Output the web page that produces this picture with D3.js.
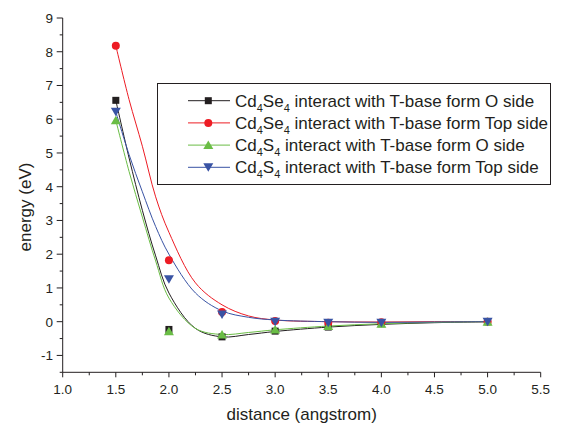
<!DOCTYPE html>
<html><head><meta charset="utf-8">
<script src="https://cdn.jsdelivr.net/npm/d3@7"></script>
<style>body{margin:0;background:#fff}svg{display:block}text{font-family:Arial,"Liberation Sans",sans-serif;fill:#231f20}</style>
</head><body><svg id="c" width="574" height="425"></svg>
<script>
const xTicks = [1.0,1.5,2.0,2.5,3.0,3.5,4.0,4.5,5.0,5.5];
const yTicks = [-1,0,1,2,3,4,5,6,7,8,9];
const distances = [1.5,2.0,2.5,3.0,3.5,4.0,5.0];
const se4O   = [6.56,-0.23,-0.45,-0.28,-0.16,-0.06,0.0];
const se4Top = [8.18,1.82,0.29,0.02,-0.03,-0.02,0.0];
const s4O    = [5.97,-0.28,-0.38,-0.23,-0.13,-0.06,0.0];
const s4Top  = [6.22,1.26,0.21,0.0,-0.03,-0.03,0.0];
const fitX     = [1.5,1.625,1.75,1.875,2.0,2.25,2.5,2.75,3.0,3.5,4.0,4.5,5.0];
const fitSe4O  = [6.56,4.85,3.3,1.95,0.85,-0.2,-0.45,-0.38,-0.29,-0.16,-0.08,-0.03,0.0];
const fitSe4Top= [8.18,6.58,5.2,3.7,2.65,1.15,0.5,0.17,0.05,0.0,-0.01,0.0,0.0];
const fitS4O   = [5.97,4.45,3.1,1.8,0.7,-0.2,-0.38,-0.32,-0.24,-0.13,-0.06,-0.02,0.0];
const fitS4Top = [6.22,4.95,3.85,2.82,2.0,0.85,0.32,0.13,0.05,0.0,-0.02,-0.01,0.0];

const series = [
  {pre:"Se", rest:" interact with T-base form O side", vals:se4O, fit:fitSe4O, color:"#231f20", sym:"square"},
  {pre:"Se", rest:" interact with T-base form Top side", vals:se4Top, fit:fitSe4Top, color:"#ed1c24", sym:"circle"},
  {pre:"S", rest:" interact with T-base form O side", vals:s4O, fit:fitS4O, color:"#6abd45", sym:"up"},
  {pre:"S", rest:" interact with T-base form Top side", vals:s4Top, fit:fitS4Top, color:"#3953a4", sym:"down"}
];

const svg = d3.select("#c");
const x = d3.scaleLinear().domain([1.0,5.5]).range([62.7,540.7]);
const y = d3.scaleLinear().domain([-1.5,9]).range([372.3,18]);

function marker(g, sym, cx, cy, color){
  if(sym==="square") g.append("rect").attr("x",cx-3.5).attr("y",cy-3.5).attr("width",7).attr("height",7).attr("fill",color);
  else if(sym==="circle") g.append("circle").attr("cx",cx).attr("cy",cy).attr("r",4).attr("fill",color);
  else if(sym==="up") g.append("path").attr("d",`M${cx},${cy-4.5}L${cx+5},${cy+4}L${cx-5},${cy+4}Z`).attr("fill",color);
  else g.append("path").attr("d",`M${cx},${cy+4.5}L${cx+5},${cy-4}L${cx-5},${cy-4}Z`).attr("fill",color);
}

// axes
const xMinor = d3.range(1.0,5.5001,0.25);
const yMinor = d3.range(-1.5,9.0001,0.5);
const ax = svg.append("g").attr("stroke","#231f20").attr("stroke-width",1);
ax.append("line").attr("x1",x(1.0)).attr("x2",x(5.5)).attr("y1",y(-1.5)).attr("y2",y(-1.5));
ax.append("line").attr("x1",x(1.0)).attr("x2",x(1.0)).attr("y1",y(-1.5)).attr("y2",y(9));
xMinor.forEach(v=>{const major=Math.abs(v*2-Math.round(v*2))<1e-6;
  ax.append("line").attr("x1",x(v)).attr("x2",x(v)).attr("y1",y(-1.5)).attr("y2",y(-1.5)+(major?5:3));});
yMinor.forEach(v=>{const major=Math.abs(v-Math.round(v))<1e-6;
  ax.append("line").attr("x1",x(1.0)).attr("x2",x(1.0)-(major?6:3)).attr("y1",y(v)).attr("y2",y(v));});
svg.append("g").selectAll("text").data(xTicks).join("text")
  .attr("x",d=>x(d)).attr("y",394).attr("text-anchor","middle").attr("font-size",13.5).text(d=>d.toFixed(1));
svg.append("g").selectAll("text").data(yTicks).join("text")
  .attr("x",53).attr("y",d=>y(d)+5).attr("text-anchor","end").attr("font-size",13.5).text(d=>d);
svg.append("text").attr("x",x(3.25)).attr("y",420).attr("text-anchor","middle").attr("font-size",17).text("distance (angstrom)");
svg.append("text").attr("transform","translate(31,207) rotate(-90)").attr("text-anchor","middle").attr("font-size",17).text("energy (eV)");

// curves
const line = d3.line().x(d=>x(d[0])).y(d=>y(d[1])).curve(d3.curveCatmullRom.alpha(0.5));
series.forEach(s=>{
  svg.append("path").attr("d",line(fitX.map((v,i)=>[v,s.fit[i]]))).attr("fill","none").attr("stroke",s.color).attr("stroke-width",1);
});
series.forEach(s=>{
  const g = svg.append("g");
  distances.forEach((d,i)=>marker(g,s.sym,x(d),y(s.vals[i]),s.color));
});

// legend
const lg = svg.append("g");
lg.append("rect").attr("x",157.5).attr("y",83.5).attr("width",393).attr("height",101).attr("fill","#fff").attr("stroke","#231f20").attr("stroke-width",1);
series.forEach((s,i)=>{
  const cy = 100.7 + i*22.2;
  lg.append("line").attr("x1",188).attr("x2",230).attr("y1",cy).attr("y2",cy).attr("stroke",s.color).attr("stroke-width",1);
  marker(lg,s.sym,208.3,cy,s.color);
  const t = lg.append("text").attr("x",235).attr("y",cy+6).attr("font-size",17);
  t.append("tspan").text("Cd");
  t.append("tspan").attr("font-size",11).attr("dy",5).text("4");
  t.append("tspan").attr("dy",-5).text(s.pre);
  t.append("tspan").attr("font-size",11).attr("dy",5).text("4");
  t.append("tspan").attr("dy",-5).text(s.rest);
});
</script></body></html>
